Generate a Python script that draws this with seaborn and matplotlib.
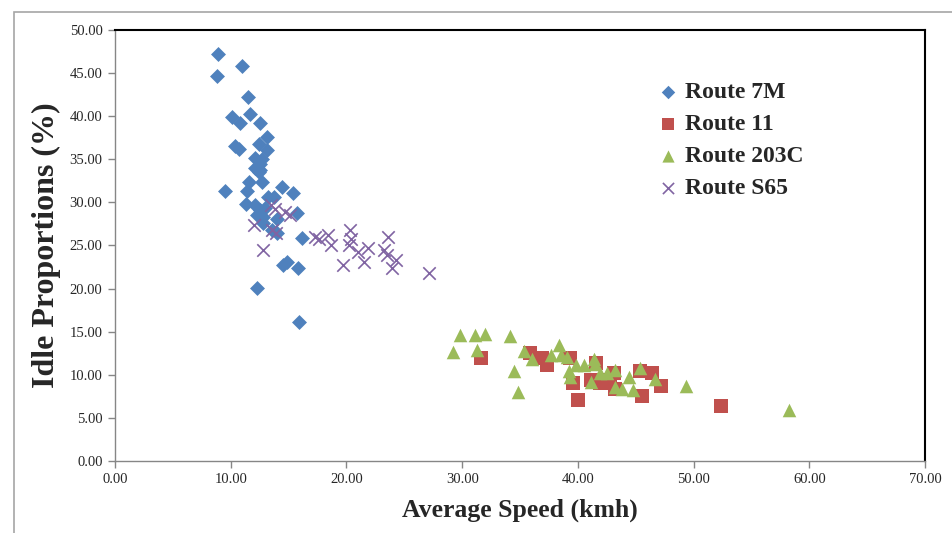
import matplotlib
matplotlib.use("Agg")
import matplotlib.pyplot as plt
import seaborn as sns
import pandas as pd
from matplotlib.patches import Rectangle

# ---- data ----
r7m_speed = [8.9, 11.0, 8.8, 11.5, 10.1, 10.8, 11.7, 12.5, 13.1, 10.4, 10.7, 12.4, 13.1,
             12.1, 12.5, 12.1, 12.4, 12.7, 11.6, 14.4, 9.5, 15.4, 11.4, 13.2, 13.7, 11.3,
             12.1, 12.5, 12.3, 12.8, 14.0, 15.7, 12.8, 13.6, 14.0, 16.2, 14.5, 14.9, 15.8,
             12.3, 15.9, 12.5, 12.7, 13.0]
r7m_idle = [47.2, 45.8, 44.7, 42.2, 39.9, 39.2, 40.3, 39.2, 37.6, 36.5, 36.2, 36.8, 36.1,
            35.2, 34.5, 34.0, 33.5, 32.4, 32.4, 31.8, 31.3, 31.1, 31.3, 30.6, 30.6, 29.8,
            29.7, 29.1, 28.5, 28.3, 28.1, 28.8, 27.6, 26.8, 26.5, 25.9, 22.7, 23.1, 22.4,
            20.1, 16.1, 33.8, 35.0, 29.4]

r11_speed = [31.6, 35.9, 36.9, 37.3, 39.3, 39.6, 40.0, 41.1, 41.6, 41.9, 42.4, 42.8,
             43.2, 43.1, 45.4, 46.4, 47.2, 45.5, 52.4]
r11_idle = [11.9, 12.5, 11.9, 11.1, 11.9, 9.1, 7.1, 9.4, 11.4, 9.0, 9.0, 9.4,
            8.3, 10.2, 10.4, 10.2, 8.7, 7.5, 6.4]

r203c_speed = [29.2, 29.8, 31.1, 31.3, 32.0, 34.1, 34.5, 34.8, 35.3, 36.0, 37.7, 38.4,
               38.5, 39.1, 39.2, 39.3, 39.8, 40.5, 41.4, 41.5, 41.1, 41.9, 42.5, 43.2,
               43.2, 43.8, 44.4, 45.4, 46.7, 44.8, 49.3, 58.2]
r203c_idle = [12.6, 14.6, 14.6, 12.9, 14.7, 14.5, 10.4, 8.0, 12.8, 11.8, 12.3, 13.4,
              12.3, 12.1, 10.4, 9.8, 11.1, 11.1, 11.8, 11.3, 9.2, 10.2, 10.2, 10.6,
              8.6, 8.4, 9.8, 10.8, 9.5, 8.2, 8.7, 5.9]

rs65_speed = [12.0, 12.8, 13.5, 13.8, 14.7, 15.1, 13.6, 13.9, 17.3, 17.6, 18.4, 18.7,
              20.3, 20.4, 20.2, 21.0, 21.9, 19.7, 21.5, 23.6, 23.2, 23.5, 24.3, 23.9, 27.1]
rs65_idle = [27.4, 24.5, 29.7, 29.2, 28.9, 28.5, 26.8, 26.5, 26.0, 25.8, 26.2, 25.1,
             26.8, 25.8, 25.1, 24.3, 24.7, 22.7, 23.1, 26.0, 24.5, 23.9, 23.3, 22.4, 21.8]

route_names = ["Route 7M", "Route 11", "Route 203C", "Route S65"]
x_ticks = [0, 10, 20, 30, 40, 50, 60, 70]
y_ticks = [0, 5, 10, 15, 20, 25, 30, 35, 40, 45, 50]

# ---- style ----
sns.set_style("white")
plt.rcParams["font.family"] = ["Liberation Serif", "DejaVu Serif"]

colors = ["#4F81BD", "#C0504D", "#9BBB59", "#8064A2"]
markers = ["D", "s", "^", "x"]
sizes = [58, 95, 95, 80]

fig = plt.figure(figsize=(9.53, 5.33), dpi=100)
ax = fig.add_axes([0.1207, 0.1351, 0.85, 0.8086])

series = [(r7m_speed, r7m_idle), (r11_speed, r11_idle),
          (r203c_speed, r203c_idle), (rs65_speed, rs65_idle)]
for (xs, ys), name, c, m, s in zip(series, route_names, colors, markers, sizes):
    df = pd.DataFrame({"speed": xs, "idle": ys})
    if m == "x":
        sns.scatterplot(data=df, x="speed", y="idle", ax=ax, marker=m, s=s,
                        color=c, linewidth=1.2, label=name, zorder=3)
    else:
        sns.scatterplot(data=df, x="speed", y="idle", ax=ax, marker=m, s=s,
                        color=c, edgecolor=c, linewidth=0, label=name, zorder=3)

ax.set_xlim(0, 70)
ax.set_ylim(0, 50)
ax.set_xticks(x_ticks)
ax.set_yticks(y_ticks)
ax.set_xticklabels([f"{v:.2f}" for v in x_ticks], fontsize=10.5)
ax.set_yticklabels([f"{v:.2f}" for v in y_ticks], fontsize=10.5)
ax.tick_params(axis="both", direction="out", length=5, width=1, color="#868686",
               pad=4, bottom=True, left=True)

for side in ["left", "bottom"]:
    ax.spines[side].set_color("#868686")
    ax.spines[side].set_linewidth(1)
for side in ["top", "right"]:
    ax.spines[side].set_color("#000000")
    ax.spines[side].set_linewidth(1.5)

ax.set_xlabel("Average Speed (kmh)", fontsize=18.5, fontweight="bold", labelpad=9)
ax.set_ylabel("Idle Proportions (%)", fontsize=23, fontweight="bold", labelpad=6)

leg = ax.legend(loc="upper left", bbox_to_anchor=(0.642, 0.930), frameon=False,
                fontsize=17, handletextpad=0.2, labelspacing=0.45,
                markerscale=0.9, handlelength=1.0)
for t in leg.get_texts():
    t.set_fontweight("bold")

# outer chart border
fig.patches.append(Rectangle((14 / 953, -0.05), 1.2, 1 - 12 / 533 + 0.05,
                             transform=fig.transFigure, fill=False,
                             edgecolor="#A6A6A6", linewidth=1.2))

fig.savefig("out.png", dpi=100)
